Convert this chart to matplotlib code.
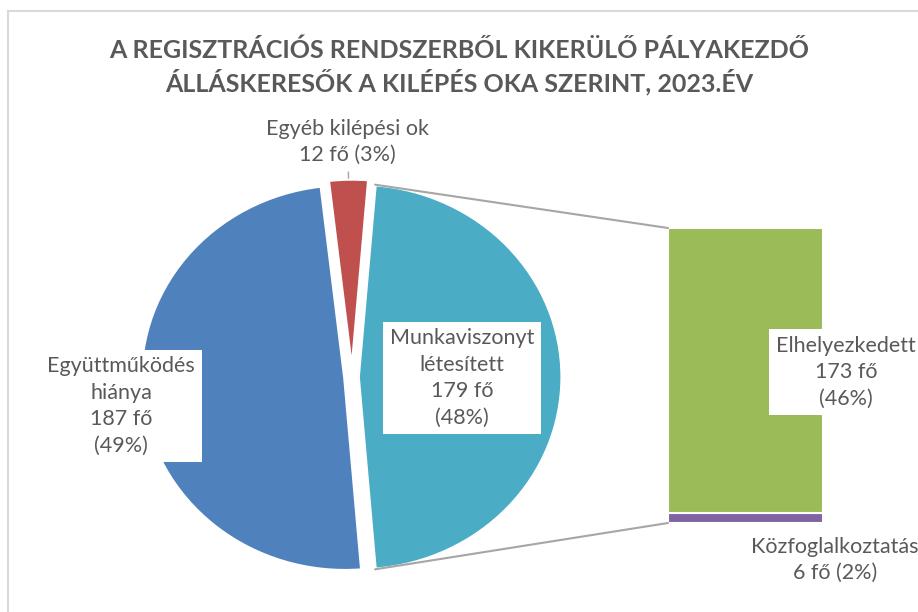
import numpy as np
import matplotlib.pyplot as plt
from matplotlib.patches import ConnectionPatch, Rectangle

plt.rcParams['font.family'] = ['Lato', 'DejaVu Sans']

title = 'A REGISZTRÁCIÓS RENDSZERBŐL KIKERÜLŐ PÁLYAKEZDŐ\nÁLLÁSKERESŐK A KILÉPÉS OKA SZERINT, 2023.ÉV'

# pie part (counterclockwise from the right side)
pie_names = ['Munkaviszonyt\nlétesített', 'Egyéb kilépési ok', 'Együttműködés\nhiánya']
pie_vals = [179, 12, 187]
pie_pct = [48, 3, 49]

# bar part (split of "Munkaviszonyt létesített"), bottom to top
bar_names = ['Közfoglalkoztatás', 'Elhelyezkedett']
bar_vals = [6, 173]
bar_pct = [2, 46]

pie_colors = ['#4BACC6', '#C0504D', '#4F81BD']
bar_colors = ['#8064A2', '#9BBB59']
txt = '#595959'

W, H = 918, 612
fig = plt.figure(figsize=(W / 100, H / 100), dpi=100)


def px(x, y):
    # pixel position from top-left -> figure fraction
    return x / W, 1 - y / H


# chart area frame (runs off right and bottom)
fig.patches.append(Rectangle(px(8, 640), (W + 40) / W, (640 - 11) / H,
                             transform=fig.transFigure, fill=False,
                             ec='#d9d9d9', lw=1.5))

fig.text(*px(459, 67), title, ha='center', va='center', fontsize=18,
         fontweight='bold', color=txt, linespacing=1.3)

# pie (screenshot is slightly stretched sideways)
cx, cy, rx, ry = 352, 377, 204, 193
lim = 1.15
ax = fig.add_axes([(cx - rx * lim) / W, (H - cy - ry * lim) / H,
                   2 * rx * lim / W, 2 * ry * lim / H])
total = sum(pie_vals)
start = -pie_vals[0] / total * 180
explode = [0.03, 0.026, 0.035]
ax.pie(pie_vals, colors=pie_colors, startangle=start, explode=explode,
       wedgeprops=dict(edgecolor='white', linewidth=2.5))
ax.set_aspect('auto')
ax.set_xlim(-lim, lim)
ax.set_ylim(-lim, lim)
ax.axis('off')

# leader tick for the small slice
a_red = np.deg2rad(start + (pie_vals[0] + pie_vals[1] / 2) / total * 360)
rr = np.array([1.005 + explode[1], 1.035 + explode[1]])
ax.plot(rr * np.cos(a_red), rr * np.sin(a_red), color='#a6a6a6', lw=1)

# stacked bar
bx = fig.add_axes([668 / W, (H - 523) / H, 155 / W, 295 / H])
bottom = 0
for v, c in zip(bar_vals, bar_colors):
    bx.bar(0, v, bottom=bottom, width=1, color=c, edgecolor='white', linewidth=1.5)
    bottom += v
bx.set_xlim(-0.5, 0.5)
bx.set_ylim(0, sum(bar_vals))
bx.axis('off')

# connector lines
th1 = np.deg2rad(start)
th2 = np.deg2rad(start + pie_vals[0] / total * 360)
mid = (th1 + th2) / 2
e = explode[0]
for th, yb in [(th2, sum(bar_vals)), (th1, 0)]:
    p = (np.cos(th) + e * np.cos(mid), np.sin(th) + e * np.sin(mid))
    con = ConnectionPatch(xyA=p, coordsA=ax.transData, xyB=(-0.5, yb),
                          coordsB=bx.transData, color='#a6a6a6', lw=1.5)
    fig.add_artist(con)

# labels
lab = dict(ha='center', va='center', fontsize=15.5, color=txt, linespacing=1.4)
box = dict(fc='white', ec='none', pad=5)

fig.text(*px(347, 142), f'{pie_names[1]}\n{pie_vals[1]} fő ({pie_pct[1]}%)', **lab)
fig.text(*px(121, 406), f'{pie_names[2]}\n{pie_vals[2]} fő\n({pie_pct[2]}%)', bbox=box, **lab)
fig.text(*px(462, 378), f'{pie_names[0]}\n{pie_vals[0]} fő\n({pie_pct[0]}%)', bbox=box, **lab)
fig.text(*px(846, 372), f'{bar_names[1]}\n{bar_vals[1]} fő\n({bar_pct[1]}%)', bbox=box, **lab)
fig.text(*px(835, 560), f'{bar_names[0]}\n{bar_vals[0]} fő ({bar_pct[0]}%)', **lab)

fig.savefig('out.png', dpi=100)
